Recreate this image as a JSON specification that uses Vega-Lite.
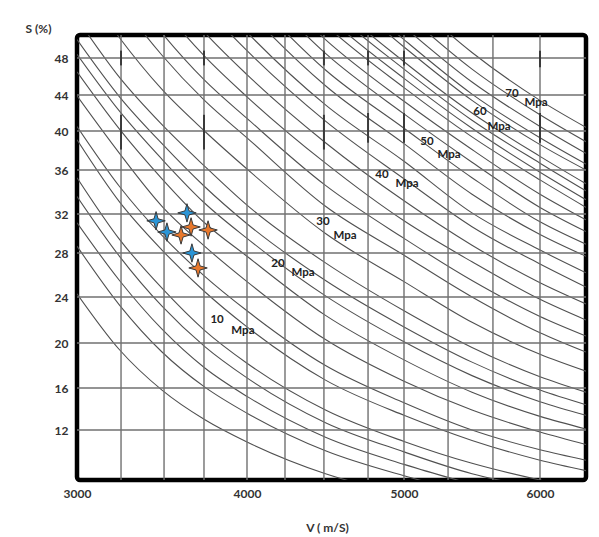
{
  "$schema": "https://vega.github.io/schema/vega-lite/v6.json",
  "width": 509,
  "height": 445,
  "autosize": {"type": "none"},
  "padding": {"left": 77, "top": 35, "right": 13, "bottom": 57},
  "background": "white",
  "config": {
    "view": {"stroke": "#000", "strokeWidth": 4.5, "cornerRadius": 3},
    "font": "Lato",
    "axisX": {"grid": false, "ticks": false, "domain": false, "labelFlush": false, "labelPadding": 8, "labelFont": "Lato", "labelFontSize": 12, "labelFontWeight": "bold", "labelColor": "#333", "titleFont": "Lato", "titleFontSize": 12, "titleFontWeight": "bold", "titleColor": "#333", "titleX": 250, "titleY": 47, "titleBaseline": "middle", "titleAlign": "center"},
    "axisY": {"grid": false, "ticks": false, "domain": false, "labelPadding": 9, "labelFont": "Lato", "labelFontSize": 12, "labelFontWeight": "bold", "labelColor": "#333", "titleFont": "Lato", "titleFontSize": 12, "titleFontWeight": "bold", "titleColor": "#333", "titleAngle": 0, "titleX": -39, "titleY": -7, "titleAlign": "center", "titleBaseline": "middle"}
  },
  "datasets": {
    "vgrid": [
      {"V": 3259}, {"V": 3512}, {"V": 3747}, {"V": 4000}, {"V": 4242}, {"V": 4490},
      {"V": 4771}, {"V": 5000}, {"V": 5324}, {"V": 5654}, {"V": 6000}
    ],
    "hgrid": [
      {"S": 12}, {"S": 16}, {"S": 20}, {"S": 24}, {"S": 28}, {"S": 32}, {"S": 36}, {"S": 40}, {"S": 44}, {"S": 48}
    ],
    "marks": [
      {"V": 3259, "S1": 47.2, "S2": 48.8}, {"V": 3259, "S1": 38.1, "S2": 41.8},
      {"V": 3747, "S1": 47.2, "S2": 48.8}, {"V": 3747, "S1": 38.1, "S2": 41.8},
      {"V": 4490, "S1": 47.2, "S2": 48.8}, {"V": 4490, "S1": 38.1, "S2": 41.8},
      {"V": 4771, "S1": 47.2, "S2": 48.8}, {"V": 4771, "S1": 38.8, "S2": 42.0},
      {"V": 5000, "S1": 47.2, "S2": 48.8}, {"V": 5000, "S1": 38.8, "S2": 42.0},
      {"V": 6000, "S1": 47.0, "S2": 48.8}, {"V": 6000, "S1": 38.8, "S2": 42.0}
    ],
    "curves": [
      {"c": 0, "V": 3000, "S": 24.3}, {"c": 0, "V": 3250, "S": 19.4}, {"c": 0, "V": 3500, "S": 15.8}, {"c": 0, "V": 3750, "S": 13.0}, {"c": 0, "V": 4000, "S": 10.85}, {"c": 0, "V": 4500, "S": 7.8}, {"c": 0, "V": 5000, "S": 5.8},
      {"c": 1, "V": 3000, "S": 28.7}, {"c": 1, "V": 3250, "S": 23.3}, {"c": 1, "V": 3500, "S": 19.2}, {"c": 1, "V": 3750, "S": 16.1}, {"c": 1, "V": 4000, "S": 13.6}, {"c": 1, "V": 4500, "S": 10.0}, {"c": 1, "V": 5000, "S": 7.6}, {"c": 1, "V": 5500, "S": 5.9},
      {"c": 2, "V": 3000, "S": 31.1}, {"c": 2, "V": 3250, "S": 25.5}, {"c": 2, "V": 3500, "S": 21.2}, {"c": 2, "V": 3750, "S": 17.8}, {"c": 2, "V": 4000, "S": 15.2}, {"c": 2, "V": 4500, "S": 11.3}, {"c": 2, "V": 5000, "S": 8.7}, {"c": 2, "V": 5500, "S": 6.8},
      {"c": 3, "V": 3000, "S": 33.6}, {"c": 3, "V": 3250, "S": 27.7}, {"c": 3, "V": 3500, "S": 23.2}, {"c": 3, "V": 3750, "S": 19.7}, {"c": 3, "V": 4000, "S": 16.9}, {"c": 3, "V": 4500, "S": 12.7}, {"c": 3, "V": 5000, "S": 9.9}, {"c": 3, "V": 5500, "S": 7.8}, {"c": 3, "V": 6000, "S": 6.4},
      {"c": 4, "V": 3000, "S": 35.3}, {"c": 4, "V": 3250, "S": 29.4}, {"c": 4, "V": 3500, "S": 24.8}, {"c": 4, "V": 3750, "S": 21.1}, {"c": 4, "V": 4000, "S": 18.2}, {"c": 4, "V": 4500, "S": 13.9}, {"c": 4, "V": 5000, "S": 10.9}, {"c": 4, "V": 5500, "S": 8.8}, {"c": 4, "V": 6000, "S": 7.2}, {"c": 4, "V": 6338, "S": 6.3},
      {"c": 5, "V": 3000, "S": 39.1}, {"c": 5, "V": 3250, "S": 33.1}, {"c": 5, "V": 3500, "S": 28.3}, {"c": 5, "V": 3750, "S": 24.5}, {"c": 5, "V": 4000, "S": 21.4}, {"c": 5, "V": 4500, "S": 16.7}, {"c": 5, "V": 5000, "S": 13.4}, {"c": 5, "V": 5500, "S": 11.0}, {"c": 5, "V": 6000, "S": 9.1}, {"c": 5, "V": 6338, "S": 8.1},
      {"c": 6, "V": 3000, "S": 40.5}, {"c": 6, "V": 3250, "S": 34.5}, {"c": 6, "V": 3500, "S": 29.8}, {"c": 6, "V": 3750, "S": 25.9}, {"c": 6, "V": 4000, "S": 22.8}, {"c": 6, "V": 4500, "S": 18.0}, {"c": 6, "V": 5000, "S": 14.6}, {"c": 6, "V": 5500, "S": 12.0}, {"c": 6, "V": 6000, "S": 10.1}, {"c": 6, "V": 6338, "S": 9.1},
      {"c": 7, "V": 3000, "S": 43.9}, {"c": 7, "V": 3250, "S": 37.7}, {"c": 7, "V": 3500, "S": 32.7}, {"c": 7, "V": 3750, "S": 28.7}, {"c": 7, "V": 4000, "S": 25.4}, {"c": 7, "V": 4500, "S": 20.3}, {"c": 7, "V": 5000, "S": 16.6}, {"c": 7, "V": 5500, "S": 13.9}, {"c": 7, "V": 6000, "S": 11.8}, {"c": 7, "V": 6338, "S": 10.6},
      {"c": 8, "V": 3000, "S": 46.5}, {"c": 8, "V": 3250, "S": 40.2}, {"c": 8, "V": 3500, "S": 35.2}, {"c": 8, "V": 3750, "S": 31.1}, {"c": 8, "V": 4000, "S": 27.7}, {"c": 8, "V": 4500, "S": 22.4}, {"c": 8, "V": 5000, "S": 18.5}, {"c": 8, "V": 5500, "S": 15.6}, {"c": 8, "V": 6000, "S": 13.3}, {"c": 8, "V": 6338, "S": 12.1},
      {"c": 9, "V": 3000, "S": 48.4}, {"c": 9, "V": 3250, "S": 42.2}, {"c": 9, "V": 3500, "S": 37.1}, {"c": 9, "V": 3750, "S": 33.0}, {"c": 9, "V": 4000, "S": 29.5}, {"c": 9, "V": 4500, "S": 24.1}, {"c": 9, "V": 5000, "S": 20.1}, {"c": 9, "V": 5500, "S": 17.1}, {"c": 9, "V": 6000, "S": 14.7}, {"c": 9, "V": 6338, "S": 13.4},
      {"c": 10, "V": 3000, "S": 50.0}, {"c": 10, "V": 3250, "S": 43.8}, {"c": 10, "V": 3500, "S": 38.7}, {"c": 10, "V": 3750, "S": 34.5}, {"c": 10, "V": 4000, "S": 31.0}, {"c": 10, "V": 4500, "S": 25.5}, {"c": 10, "V": 5000, "S": 21.4}, {"c": 10, "V": 5500, "S": 18.3}, {"c": 10, "V": 6000, "S": 15.8}, {"c": 10, "V": 6338, "S": 14.4},
      {"c": 11, "V": 3000, "S": 52.3}, {"c": 11, "V": 3250, "S": 45.9}, {"c": 11, "V": 3500, "S": 40.7}, {"c": 11, "V": 3750, "S": 36.4}, {"c": 11, "V": 4000, "S": 32.8}, {"c": 11, "V": 4500, "S": 27.1}, {"c": 11, "V": 5000, "S": 22.8}, {"c": 11, "V": 5500, "S": 19.6}, {"c": 11, "V": 6000, "S": 17.0}, {"c": 11, "V": 6338, "S": 15.6},
      {"c": 12, "V": 3000, "S": 56.9}, {"c": 12, "V": 3250, "S": 50.2}, {"c": 12, "V": 3500, "S": 44.6}, {"c": 12, "V": 3750, "S": 40.0}, {"c": 12, "V": 4000, "S": 36.1}, {"c": 12, "V": 4500, "S": 30.0}, {"c": 12, "V": 5000, "S": 25.4}, {"c": 12, "V": 5500, "S": 21.8}, {"c": 12, "V": 6000, "S": 19.0}, {"c": 12, "V": 6338, "S": 17.5},
      {"c": 13, "V": 3000, "S": 61.3}, {"c": 13, "V": 3250, "S": 54.2}, {"c": 13, "V": 3500, "S": 48.3}, {"c": 13, "V": 3750, "S": 43.4}, {"c": 13, "V": 4000, "S": 39.3}, {"c": 13, "V": 4500, "S": 32.7}, {"c": 13, "V": 5000, "S": 27.8}, {"c": 13, "V": 5500, "S": 24.0}, {"c": 13, "V": 6000, "S": 20.9}, {"c": 13, "V": 6338, "S": 19.2},
      {"c": 14, "V": 3250, "S": 56.7}, {"c": 14, "V": 3500, "S": 50.7}, {"c": 14, "V": 3750, "S": 45.6}, {"c": 14, "V": 4000, "S": 41.4}, {"c": 14, "V": 4500, "S": 34.6}, {"c": 14, "V": 5000, "S": 29.5}, {"c": 14, "V": 5500, "S": 25.5}, {"c": 14, "V": 6000, "S": 22.3}, {"c": 14, "V": 6338, "S": 20.6},
      {"c": 15, "V": 3250, "S": 59.8}, {"c": 15, "V": 3500, "S": 53.5}, {"c": 15, "V": 3750, "S": 48.2}, {"c": 15, "V": 4000, "S": 43.8}, {"c": 15, "V": 4500, "S": 36.7}, {"c": 15, "V": 5000, "S": 31.3}, {"c": 15, "V": 5500, "S": 27.2}, {"c": 15, "V": 6000, "S": 23.8}, {"c": 15, "V": 6338, "S": 22.0},
      {"c": 16, "V": 3500, "S": 56.3}, {"c": 16, "V": 3750, "S": 50.8}, {"c": 16, "V": 4000, "S": 46.2}, {"c": 16, "V": 4500, "S": 38.8}, {"c": 16, "V": 5000, "S": 33.2}, {"c": 16, "V": 5500, "S": 28.8}, {"c": 16, "V": 6000, "S": 25.3}, {"c": 16, "V": 6338, "S": 23.4},
      {"c": 17, "V": 3500, "S": 59.3}, {"c": 17, "V": 3750, "S": 53.6}, {"c": 17, "V": 4000, "S": 48.8}, {"c": 17, "V": 4500, "S": 41.1}, {"c": 17, "V": 5000, "S": 35.2}, {"c": 17, "V": 5500, "S": 30.7}, {"c": 17, "V": 6000, "S": 27.0}, {"c": 17, "V": 6338, "S": 24.9},
      {"c": 18, "V": 3750, "S": 55.8}, {"c": 18, "V": 4000, "S": 50.8}, {"c": 18, "V": 4500, "S": 42.9}, {"c": 18, "V": 5000, "S": 36.9}, {"c": 18, "V": 5500, "S": 32.1}, {"c": 18, "V": 6000, "S": 28.3}, {"c": 18, "V": 6338, "S": 26.2},
      {"c": 19, "V": 3750, "S": 58.3}, {"c": 19, "V": 4000, "S": 53.2}, {"c": 19, "V": 4500, "S": 45.0}, {"c": 19, "V": 5000, "S": 38.7}, {"c": 19, "V": 5500, "S": 33.8}, {"c": 19, "V": 6000, "S": 29.9}, {"c": 19, "V": 6338, "S": 27.7},
      {"c": 20, "V": 4000, "S": 55.1}, {"c": 20, "V": 4500, "S": 46.7}, {"c": 20, "V": 5000, "S": 40.3}, {"c": 20, "V": 5500, "S": 35.3}, {"c": 20, "V": 6000, "S": 31.2}, {"c": 20, "V": 6338, "S": 28.9},
      {"c": 21, "V": 4000, "S": 57.1}, {"c": 21, "V": 4500, "S": 48.5}, {"c": 21, "V": 5000, "S": 41.9}, {"c": 21, "V": 5500, "S": 36.8}, {"c": 21, "V": 6000, "S": 32.6}, {"c": 21, "V": 6338, "S": 30.2},
      {"c": 22, "V": 4000, "S": 58.7}, {"c": 22, "V": 4500, "S": 50.0}, {"c": 22, "V": 5000, "S": 43.3}, {"c": 22, "V": 5500, "S": 38.1}, {"c": 22, "V": 6000, "S": 33.8}, {"c": 22, "V": 6338, "S": 31.4},
      {"c": 23, "V": 4000, "S": 60.4}, {"c": 23, "V": 4500, "S": 51.6}, {"c": 23, "V": 5000, "S": 44.8}, {"c": 23, "V": 5500, "S": 39.4}, {"c": 23, "V": 6000, "S": 35.1}, {"c": 23, "V": 6338, "S": 32.6},
      {"c": 24, "V": 4000, "S": 61.7}, {"c": 24, "V": 4500, "S": 52.7}, {"c": 24, "V": 5000, "S": 45.8}, {"c": 24, "V": 5500, "S": 40.3}, {"c": 24, "V": 6000, "S": 35.8}, {"c": 24, "V": 6338, "S": 33.3},
      {"c": 25, "V": 4000, "S": 62.9}, {"c": 25, "V": 4500, "S": 53.8}, {"c": 25, "V": 5000, "S": 46.8}, {"c": 25, "V": 5500, "S": 41.2}, {"c": 25, "V": 6000, "S": 36.7}, {"c": 25, "V": 6338, "S": 34.1},
      {"c": 26, "V": 4000, "S": 64.1}, {"c": 26, "V": 4500, "S": 54.8}, {"c": 26, "V": 5000, "S": 47.6}, {"c": 26, "V": 5500, "S": 42.0}, {"c": 26, "V": 6000, "S": 37.4}, {"c": 26, "V": 6338, "S": 34.75},
      {"c": 27, "V": 4500, "S": 56.5}, {"c": 27, "V": 5000, "S": 49.2}, {"c": 27, "V": 5500, "S": 43.4}, {"c": 27, "V": 6000, "S": 38.6}, {"c": 27, "V": 6338, "S": 36.0},
      {"c": 28, "V": 4500, "S": 57.5}, {"c": 28, "V": 5000, "S": 50.0}, {"c": 28, "V": 5500, "S": 44.1}, {"c": 28, "V": 6000, "S": 39.3}, {"c": 28, "V": 6338, "S": 36.6},
      {"c": 29, "V": 4500, "S": 59.0}, {"c": 29, "V": 5000, "S": 51.4}, {"c": 29, "V": 5500, "S": 45.4}, {"c": 29, "V": 6000, "S": 40.5}, {"c": 29, "V": 6338, "S": 37.7},
      {"c": 30, "V": 4500, "S": 60.9}, {"c": 30, "V": 5000, "S": 53.0}, {"c": 30, "V": 5500, "S": 46.8}, {"c": 30, "V": 6000, "S": 41.8}, {"c": 30, "V": 6338, "S": 38.9},
      {"c": 31, "V": 4500, "S": 63.1}, {"c": 31, "V": 5000, "S": 55.0}, {"c": 31, "V": 5500, "S": 48.6}, {"c": 31, "V": 6000, "S": 43.4}, {"c": 31, "V": 6338, "S": 40.4}
    ],
    "labels": [
      {"t": "10", "V": 3824, "S": 22.0}, {"t": "Mpa", "V": 3976, "S": 21.04},
      {"t": "20", "V": 4197, "S": 27.0}, {"t": "Mpa", "V": 4357, "S": 26.18},
      {"t": "30", "V": 4484, "S": 31.18}, {"t": "Mpa", "V": 4624, "S": 29.74},
      {"t": "40", "V": 4860, "S": 35.55}, {"t": "Mpa", "V": 5022, "S": 34.73},
      {"t": "50", "V": 5169, "S": 38.87}, {"t": "Mpa", "V": 5331, "S": 37.54},
      {"t": "60", "V": 5559, "S": 42.11}, {"t": "Mpa", "V": 5699, "S": 40.44},
      {"t": "70", "V": 5794, "S": 44.1}, {"t": "Mpa", "V": 5971, "S": 43.1}
    ],
    "points": [
      {"g": "A", "V": 3465, "S": 31.3}, {"g": "A", "V": 3647, "S": 32.1}, {"g": "A", "V": 3529, "S": 30.15}, {"g": "A", "V": 3676, "S": 28.0},
      {"g": "B", "V": 3671, "S": 30.67}, {"g": "B", "V": 3612, "S": 29.85}, {"g": "B", "V": 3771, "S": 30.36}, {"g": "B", "V": 3712, "S": 26.64}
    ]
  },
  "layer": [
    {
      "data": {"name": "curves"},
      "mark": {"type": "line", "color": "#505050", "strokeWidth": 1.1, "interpolate": "monotone", "clip": true},
      "encoding": {
        "detail": {"field": "c", "type": "nominal"},
        "x": {"field": "V", "type": "quantitative",
          "scale": {"type": "linear", "domain": [3000, 4000, 5000, 6000, 6338], "range": [0, 170, 327, 463, 509], "nice": false, "zero": false},
          "axis": {"title": "V ( m/S)", "values": [3000, 4000, 5000, 6000], "format": "d"}},
        "y": {"field": "S", "type": "quantitative",
          "scale": {"type": "linear", "domain": [7.2, 12, 16, 20, 24, 28, 32, 36, 40, 44, 48, 50.5], "range": [445, 395, 353, 308, 262, 218, 179, 135, 96, 60, 23, 0], "nice": false, "zero": false},
          "axis": {"title": "S (%)", "values": [12, 16, 20, 24, 28, 32, 36, 40, 44, 48], "format": "d"}}
      }
    },
    {
      "data": {"name": "vgrid"},
      "mark": {"type": "rule", "color": "#707070", "strokeWidth": 1.4},
      "encoding": {
        "x": {"field": "V", "type": "quantitative",
          "scale": {"type": "linear", "domain": [3000, 4000, 5000, 6000, 6338], "range": [0, 170, 327, 463, 509], "nice": false, "zero": false},
          "axis": {"title": "V ( m/S)", "values": [3000, 4000, 5000, 6000], "format": "d"}}
      }
    },
    {
      "data": {"name": "hgrid"},
      "mark": {"type": "rule", "color": "#707070", "strokeWidth": 1.4},
      "encoding": {
        "y": {"field": "S", "type": "quantitative",
          "scale": {"type": "linear", "domain": [7.2, 12, 16, 20, 24, 28, 32, 36, 40, 44, 48, 50.5], "range": [445, 395, 353, 308, 262, 218, 179, 135, 96, 60, 23, 0], "nice": false, "zero": false},
          "axis": {"title": "S (%)", "values": [12, 16, 20, 24, 28, 32, 36, 40, 44, 48], "format": "d"}}
      }
    },
    {
      "data": {"name": "marks"},
      "mark": {"type": "rule", "color": "#3a3a3a", "strokeWidth": 2},
      "encoding": {
        "x": {"field": "V", "type": "quantitative",
          "scale": {"type": "linear", "domain": [3000, 4000, 5000, 6000, 6338], "range": [0, 170, 327, 463, 509], "nice": false, "zero": false},
          "axis": {"title": "V ( m/S)", "values": [3000, 4000, 5000, 6000], "format": "d"}},
        "y": {"field": "S1", "type": "quantitative",
          "scale": {"type": "linear", "domain": [7.2, 12, 16, 20, 24, 28, 32, 36, 40, 44, 48, 50.5], "range": [445, 395, 353, 308, 262, 218, 179, 135, 96, 60, 23, 0], "nice": false, "zero": false},
          "axis": {"title": "S (%)", "values": [12, 16, 20, 24, 28, 32, 36, 40, 44, 48], "format": "d"}},
        "y2": {"field": "S2"}
      }
    },
    {
      "data": {"name": "labels"},
      "mark": {"type": "text", "font": "Lato", "fontSize": 11.5, "fontWeight": "bold", "color": "#222", "align": "center", "baseline": "middle"},
      "encoding": {
        "text": {"field": "t"},
        "x": {"field": "V", "type": "quantitative",
          "scale": {"type": "linear", "domain": [3000, 4000, 5000, 6000, 6338], "range": [0, 170, 327, 463, 509], "nice": false, "zero": false},
          "axis": {"title": "V ( m/S)", "values": [3000, 4000, 5000, 6000], "format": "d"}},
        "y": {"field": "S", "type": "quantitative",
          "scale": {"type": "linear", "domain": [7.2, 12, 16, 20, 24, 28, 32, 36, 40, 44, 48, 50.5], "range": [445, 395, 353, 308, 262, 218, 179, 135, 96, 60, 23, 0], "nice": false, "zero": false},
          "axis": {"title": "S (%)", "values": [12, 16, 20, 24, 28, 32, 36, 40, 44, 48], "format": "d"}}
      }
    },
    {
      "data": {"name": "points"},
      "mark": {"type": "point", "filled": true, "shape": "M0,-1L0.22,-0.22L1,0L0.22,0.22L0,1L-0.22,0.22L-1,0L-0.22,-0.22Z", "size": 340, "stroke": "#3a3a3a", "strokeWidth": 1, "opacity": 1},
      "encoding": {
        "x": {"field": "V", "type": "quantitative",
          "scale": {"type": "linear", "domain": [3000, 4000, 5000, 6000, 6338], "range": [0, 170, 327, 463, 509], "nice": false, "zero": false},
          "axis": {"title": "V ( m/S)", "values": [3000, 4000, 5000, 6000], "format": "d"}},
        "y": {"field": "S", "type": "quantitative",
          "scale": {"type": "linear", "domain": [7.2, 12, 16, 20, 24, 28, 32, 36, 40, 44, 48, 50.5], "range": [445, 395, 353, 308, 262, 218, 179, 135, 96, 60, 23, 0], "nice": false, "zero": false},
          "axis": {"title": "S (%)", "values": [12, 16, 20, 24, 28, 32, 36, 40, 44, 48], "format": "d"}},
        "fill": {"field": "g", "type": "nominal", "legend": null, "scale": {"domain": ["A", "B"], "range": ["#2b95d6", "#e8782c"]}}
      }
    }
  ]
}
